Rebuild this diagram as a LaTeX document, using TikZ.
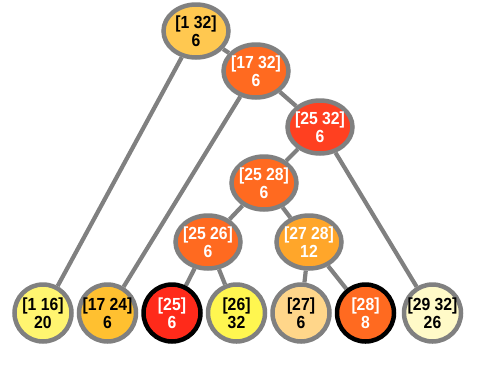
\documentclass[tikz,border=0pt]{standalone}
\usepackage{fontspec}
\setmainfont{Liberation Sans}[FakeStretch=0.9]
\usetikzlibrary{shapes, positioning, backgrounds}
\usepackage{xcolor}
\definecolor{hdsgray}{RGB}{128,128,128}
\definecolor{hdsgold}{RGB}{255,200,80}
\definecolor{hdsorange}{RGB}{255,106,32}
\definecolor{hdsred}{RGB}{255,64,32}
\definecolor{hdsamber}{RGB}{255,166,42}
\definecolor{hdsyellow}{RGB}{255,245,112}
\definecolor{hdssun}{RGB}{255,192,48}
\definecolor{hdsscarlet}{RGB}{255,42,26}
\definecolor{hdslemon}{RGB}{255,246,80}
\definecolor{hdspeach}{RGB}{255,214,138}
\definecolor{hdscream}{RGB}{255,250,200}
\tikzstyle{hdsrange} = [ellipse, minimum width=65pt, minimum height=53pt, inner sep=-10pt, align=center, draw=hdsgray, line width=4.5pt, font=\fontsize{17.5}{18.5}\selectfont\bfseries]
\tikzstyle{hdsleaf}  = [hdsrange, minimum width=57pt, minimum height=57pt]
\tikzstyle{picked}   = [draw=black]
\tikzstyle{edge}     = [draw=hdsgray, line width=4.2pt]

\begin{document}
\begin{tikzpicture}[x=1pt, y=-1pt, node distance=64.5pt]
        \useasboundingbox (0,0) rectangle (494,378);
        % inner ranges
        \node (r132)  [hdsrange, fill=hdsgold]                at (196,31)  {[1 32]\\6};
        \node (r1732) [hdsrange, fill=hdsorange, text=white]  at (256,71)  {[17 32]\\6};
        \node (r2532) [hdsrange, fill=hdsred, text=white]     at (320,127) {[25 32]\\6};
        \node (r2528) [hdsrange, fill=hdsorange, text=white]  at (264,183) {[25 28]\\6};
        \node (r2526) [hdsrange, fill=hdsorange, text=white]  at (208,242) {[25 26]\\6};
        \node (r2728) [hdsrange, fill=hdsamber, text=white]   at (309,242) {[27 28]\\12};

        % leaves
        \node (l116)  [hdsleaf, fill=hdsyellow]                       at (43,313) {[1 16]\\20};
        \node (l1724) [hdsleaf, fill=hdssun,     right of=l116]       {[17 24]\\6};
        \node (l25)   [hdsleaf, picked, fill=hdsscarlet, text=white, right of=l1724] {[25]\\6};
        \node (l26)   [hdsleaf, fill=hdslemon,   right of=l25]        {[26]\\32};
        \node (l27)   [hdsleaf, fill=hdspeach,   right of=l26]        {[27]\\6};
        \node (l28)   [hdsleaf, picked, fill=hdsorange, text=white, right of=l27] {[28]\\8};
        \node (l2932) [hdsleaf, fill=hdscream,   right of=l28, xshift=2.5pt] {[29 32]\\26};

        \begin{scope}[on background layer]
            \draw [edge] (r132)  -- (r1732);
            \draw [edge] (r132)  -- (l116);
            \draw [edge] (r1732) -- (r2532);
            \draw [edge] (r1732) -- (l1724);
            \draw [edge] (r2532) -- (r2528);
            \draw [edge] (r2532) -- (l2932);
            \draw [edge] (r2528) -- (r2526);
            \draw [edge] (r2528) -- (r2728);
            \draw [edge] (r2526) -- (l25);
            \draw [edge] (r2526) -- (l26);
            \draw [edge] (r2728) -- (l27);
            \draw [edge] (r2728) -- (l28);
        \end{scope}
    \end{tikzpicture}
\end{document}
